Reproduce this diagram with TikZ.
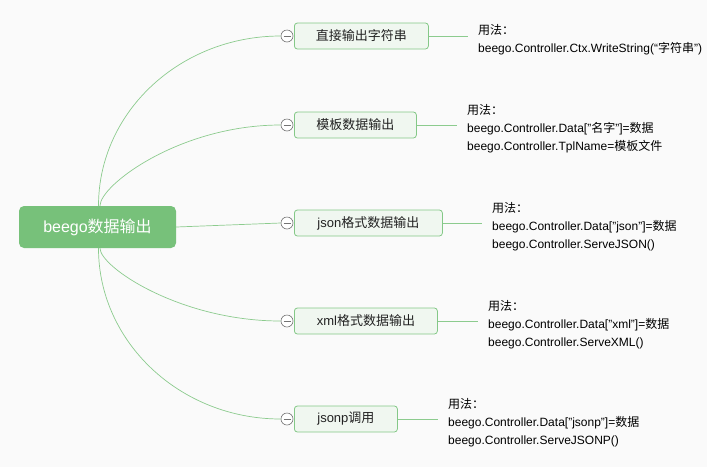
\documentclass[tikz,border=0pt]{standalone}
\usepackage{fontspec}
\setmainfont{Liberation Sans}
\newfontfamily\cjk{Noto Sans CJK SC}
\definecolor{bgc}{HTML}{FAFAFA}
\definecolor{rootg}{HTML}{77C17A}
\definecolor{boxb}{HTML}{84C887}
\definecolor{boxf}{HTML}{F0F7F0}
\definecolor{linec}{HTML}{8CCB8E}
\definecolor{txt}{HTML}{222222}
\tikzset{
  rootbox/.style={fill=rootg, rounded corners=5pt, minimum width=157pt, minimum height=42pt, text=white, font=\fontsize{16}{18}\selectfont, inner sep=0pt},
  topic/.style={draw=boxb, fill=boxf, rounded corners=3pt, minimum height=26pt, inner sep=0pt, text=txt, font=\fontsize{13}{15}\selectfont, anchor=west, line width=0.8pt},
  note/.style={align=left, anchor=west, inner sep=0pt, text=black, font=\fontsize{12}{18}\selectfont},
  conn/.style={draw=linec, line width=0.7pt},
  fold/.style={circle, draw=gray!90!black, fill=white, minimum size=12pt, inner sep=0pt, line width=0.6pt,
    path picture={\draw[gray!90!black, line width=0.6pt] ([xshift=-3.5pt]path picture bounding box.center) -- ([xshift=3.5pt]path picture bounding box.center);}},
}
\begin{document}
\begin{tikzpicture}[x=1pt,y=-1pt]
\fill[bgc] (0,0) rectangle (707,467);
\useasboundingbox (0,0) rectangle (707,467);

\node[rootbox] (root) at (97.5,227) {beego{\cjk 数据输出}};

\node[topic, minimum width=134pt] (b1) at (294,36) {{\cjk 直接输出字符串}};
\node[topic, minimum width=122pt] (b2) at (294,125) {{\cjk 模板数据输出}};
\node[topic, minimum width=148pt] (b3) at (294,223) {json{\cjk 格式数据输出}};
\node[topic, minimum width=143pt] (b4) at (294,321) {xml{\cjk 格式数据输出}};
\node[topic, minimum width=103pt] (b5) at (294,419) {jsonp{\cjk 调用}};

\node[note] (n1) at (478,40) {{\cjk 用法：}\\beego.Controller.Ctx.WriteString(“{\cjk 字符串}”)};
\node[note] (n2) at (467,129) {{\cjk 用法：}\\beego.Controller.Data["{\cjk 名字}"]={\cjk 数据}\\beego.Controller.TplName={\cjk 模板文件}};
\node[note] (n3) at (492,227) {{\cjk 用法：}\\beego.Controller.Data["json"]={\cjk 数据}\\beego.Controller.ServeJSON()};
\node[note] (n4) at (488,325) {{\cjk 用法：}\\beego.Controller.Data["xml"]={\cjk 数据}\\beego.Controller.ServeXML()};
\node[note] (n5) at (448,423) {{\cjk 用法：}\\beego.Controller.Data["jsonp"]={\cjk 数据}\\beego.Controller.ServeJSONP()};

% fold markers
\foreach \i in {1,...,5} {
  \node[fold] (f\i) at ([xshift=-7pt]b\i.west) {};
}

% connectors root -> topics
\draw[conn] ([xshift=1pt]root.north) .. controls (98.5,112) and (180,36) .. (f1.west);
\draw[conn] ([xshift=2.5pt]root.north) .. controls (100,185) and (180,125) .. (f2.west);
\draw[conn] (root.east) -- (f3.west);
\draw[conn] ([xshift=2.5pt]root.south) .. controls (100,267) and (180,321) .. (f4.west);
\draw[conn] ([xshift=1pt]root.south) .. controls (98.5,342) and (180,419) .. (f5.west);

% topics -> notes
\foreach \i in {1,...,5} {
  \draw[conn] (b\i.east) -- ([xshift=-10pt]b\i.east -| n\i.west);
}
\end{tikzpicture}
\end{document}
